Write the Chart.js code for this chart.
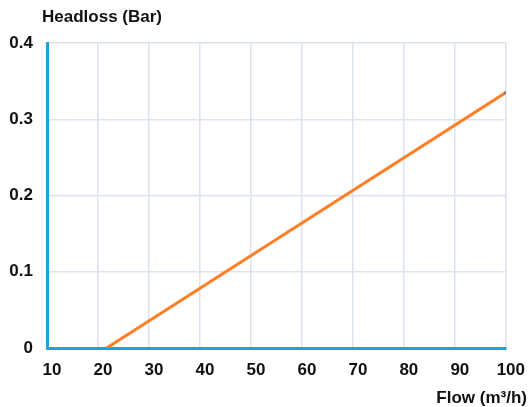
<!DOCTYPE html>
<html>
<head>
<meta charset="utf-8">
<script src="https://cdn.jsdelivr.net/npm/chart.js@4.4.1/dist/chart.umd.min.js"></script>
<style>
  html, body { margin: 0; padding: 0; background: #fff; }
  #wrap { width: 532px; height: 407px; }
</style>
</head>
<body>
<div id="wrap"><canvas id="chart" width="532" height="407"></canvas></div>
<script>
  const flow = [21.7, 100];
  const headloss = [0, 0.335];
  const flowTicks = [10, 20, 30, 40, 50, 60, 70, 80, 90, 100];
  const headlossTicks = [0, 0.1, 0.2, 0.3, 0.4];

  const axisBlue = '#1ba1e6';
  const gridColor = '#dbe3ee';
  const font = { family: '"Liberation Sans", Arial, sans-serif', size: 17, weight: 'bold' };

  // axis titles sit outside the plot like in the original, so draw them by hand
  const axisTitles = {
    id: 'axisTitles',
    afterDraw(chart) {
      const ctx = chart.ctx;
      ctx.save();
      ctx.fillStyle = '#111';
      ctx.font = `bold ${font.size}px ${font.family}`;
      ctx.textBaseline = 'alphabetic';
      ctx.textAlign = 'left';
      ctx.fillText('Headloss (Bar)', 42, 22);
      ctx.textAlign = 'right';
      ctx.fillText('Flow (m³/h)', 527, 403);
      ctx.restore();
    }
  };

  new Chart(document.getElementById('chart'), {
    type: 'line',
    data: {
      datasets: [{
        data: flow.map((x, i) => ({ x, y: headloss[i] })),
        borderColor: '#ff7f27',
        borderWidth: 3,
        pointRadius: [0, 1.5],
        pointBackgroundColor: '#3a6fb0',
        pointBorderWidth: 0,
        tension: 0
      }]
    },
    options: {
      responsive: false,
      animation: false,
      layout: { padding: { top: 43, right: 24, left: 0, bottom: 0 } },
      plugins: {
        legend: { display: false },
        tooltip: { enabled: false }
      },
      scales: {
        x: {
          type: 'linear',
          min: 10,
          max: 100,
          afterBuildTicks: (scale) => { scale.ticks = flowTicks.map((value) => ({ value })); },
          afterFit: (scale) => { scale.height = 59; },
          grid: { color: gridColor, lineWidth: 1.5, drawTicks: false },
          border: { color: axisBlue, width: 3 },
          ticks: { color: '#111', font, padding: 12, labelOffset: 5, maxRotation: 0 }
        },
        y: {
          min: 0,
          max: 0.4,
          afterBuildTicks: (scale) => { scale.ticks = headlossTicks.map((value) => ({ value })); },
          afterFit: (scale) => { scale.width = 47; },
          grid: { color: gridColor, lineWidth: 1.5, drawTicks: false },
          border: { color: axisBlue, width: 3 },
          ticks: { color: '#111', font, padding: 14, callback: (v) => (v === 0 ? '0' : v.toFixed(1)) }
        }
      }
    },
    plugins: [axisTitles]
  });
</script>
</body>
</html>
